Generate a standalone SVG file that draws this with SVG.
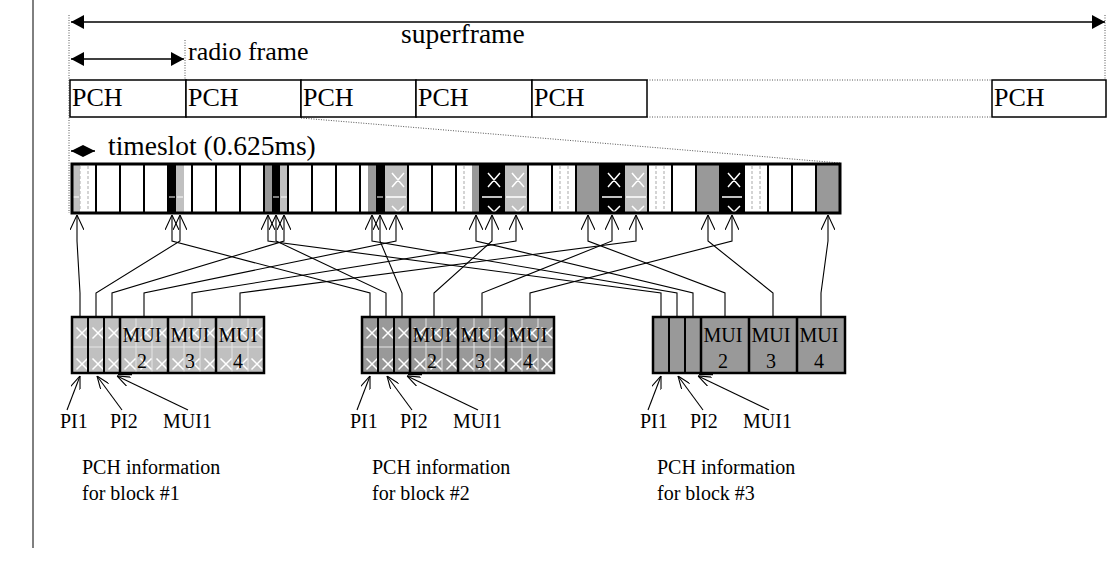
<svg xmlns="http://www.w3.org/2000/svg" xmlns:xlink="http://www.w3.org/1999/xlink" width="1107" height="565" viewBox="0 0 1107 565">
<style>
.t{font-family:"Liberation Serif","Times New Roman",serif;fill:#000}
.big{font-size:26px}
.big2{font-size:27.5px}
.mid{font-size:20px}
.lg{fill:#c0c0c0}
.dg{fill:#999999}
.bk{fill:#000}
.wx{stroke:#fff;stroke-width:1.5;fill:none}
.wl{stroke:#fff;stroke-width:1.2;fill:none}
.gl{stroke:#e6e6e6;stroke-width:1;fill:none}
.dsh{stroke:#b8b8b8;stroke-width:1.2;stroke-dasharray:3 2;fill:none}
.dot{stroke:#555;stroke-width:1;stroke-dasharray:1 1.5;fill:none}
.box{fill:#fff;stroke:#000;stroke-width:1.5}
.conn{stroke:#000;stroke-width:1.1;fill:none;marker-end:url(#oa)}
.lab{stroke:#000;stroke-width:1.1;fill:none;marker-end:url(#sa)}
.dim{stroke:#000;stroke-width:1.5;fill:none}
.thick{stroke:#000;stroke-width:2.5;fill:none}
.thin{stroke:#000;stroke-width:2;fill:none}
</style>
<defs>
<marker id="oa" viewBox="0 0 15 14" refX="15" refY="7" markerWidth="15" markerHeight="14" markerUnits="userSpaceOnUse" orient="auto"><path d="M0,0 L15,7 L0,14" fill="none" stroke="#000" stroke-width="1.1"/></marker>
<marker id="sa" viewBox="0 0 13 10" refX="13" refY="5" markerWidth="13" markerHeight="10" markerUnits="userSpaceOnUse" orient="auto"><path d="M0,0 L13,5 L0,10" fill="none" stroke="#000" stroke-width="1.1"/></marker>
<marker id="fa" viewBox="0 0 13 14" refX="13" refY="7" markerWidth="13" markerHeight="14" markerUnits="userSpaceOnUse" orient="auto-start-reverse"><path d="M0,0 L13,7 L0,14 z" fill="#000"/></marker>
<marker id="fs" viewBox="0 0 12 12" refX="12" refY="6" markerWidth="12" markerHeight="12" markerUnits="userSpaceOnUse" orient="auto-start-reverse"><path d="M0,0 L12,6 L0,12 z" fill="#000"/></marker>
<path id="xm" d="M-5.5,-5.5L5.5,5.5M5.5,-5.5L-5.5,5.5" class="wx"/>
</defs>

<path d="M33,0 V548" stroke="#000" stroke-width="1"/>

<g id="guides">
<path class="dot" d="M69,15 V213"/>
<path class="dot" d="M1105,15 V80"/>
<path class="dot" d="M185,40 V80"/>
<path class="dot" d="M647,80 H992 M647,117 H992"/>
<path class="dot" d="M301,118 L840,163"/>
</g>

<g id="superframe">
<path class="dim" d="M71,22 H1105" marker-start="url(#fa)" marker-end="url(#fa)"/>
<text class="t big2" x="401" y="43">superframe</text>
</g>

<g id="radioframe">
<path class="dim" d="M71,59 H184" marker-start="url(#fa)" marker-end="url(#fa)"/>
<text class="t big" x="188" y="60">radio frame</text>
</g>

<g id="pch-frames">
<rect class="box" x="70" y="80" width="116" height="37"/>
<rect class="box" x="186" y="80" width="115" height="37"/>
<rect class="box" x="301" y="80" width="115" height="37"/>
<rect class="box" x="416" y="80" width="116" height="37"/>
<rect class="box" x="532" y="80" width="115" height="37"/>
<rect class="box" x="992" y="80" width="114" height="37"/>
<text class="t big" x="72" y="106">PCH</text>
<text class="t big" x="188" y="106">PCH</text>
<text class="t big" x="303" y="106">PCH</text>
<text class="t big" x="418" y="106">PCH</text>
<text class="t big" x="534" y="106">PCH</text>
<text class="t big" x="994" y="106">PCH</text>
</g>

<g id="timeslot-label">
<path class="dim" d="M71,151 H95" stroke-width="1" marker-start="url(#fs)" marker-end="url(#fs)"/>
<text class="t big2" x="108" y="155">timeslot (0.625ms)</text>
</g>

<g id="timeslots">
<rect x="72" y="164" width="768" height="49" fill="#fff"/>
<rect class="lg" x="72" y="165" width="8" height="47"/>
<rect class="bk" x="168" y="165" width="8" height="47"/>
<rect class="lg" x="176" y="165" width="8" height="47"/>
<rect class="dg" x="264" y="165" width="8" height="47"/>
<rect class="bk" x="272" y="165" width="8" height="47"/>
<rect class="lg" x="280" y="165" width="8" height="47"/>
<rect class="dg" x="368" y="165" width="8" height="47"/>
<rect class="bk" x="376" y="165" width="8" height="47"/>
<rect class="lg" x="384" y="165" width="24" height="47"/>
<rect class="dg" x="472" y="165" width="8" height="47"/>
<rect class="bk" x="480" y="165" width="24" height="47"/>
<rect class="lg" x="504" y="165" width="24" height="47"/>
<rect class="dg" x="576" y="165" width="24" height="47"/>
<rect class="bk" x="600" y="165" width="24" height="47"/>
<rect class="lg" x="624" y="165" width="24" height="47"/>
<rect class="dg" x="696" y="165" width="24" height="47"/>
<rect class="bk" x="720" y="165" width="24" height="47"/>
<rect class="dg" x="816" y="165" width="24" height="47"/>
<path class="dsh" d="M80,166V211 M88,166V211 M464,166V211 M560,166V211 M568,166V211 M656,166V211 M664,166V211 M752,166V211 M760,166V211"/>
<path class="wl" d="M73,197H79 M169,197H175 M177,197H183 M273,197H279 M281,197H287 M377,197H383"/>
<path class="wx" d="M392,173L404,187M404,173L392,187 M386,197H406 M392,206L398,212L404,206
M488,173L500,187M500,173L488,187 M482,197H502 M488,206L494,212L500,206
M512,173L524,187M524,173L512,187 M506,197H526 M512,206L518,212L524,206
M608,173L620,187M620,173L608,187 M602,197H622 M608,206L614,212L620,206
M632,173L644,187M644,173L632,187 M626,197H646 M632,206L638,212L644,206
M728,173L740,187M740,173L728,187 M722,197H742 M728,206L734,212L740,206"/>
<path class="thin" d="M96,164V213 M120,164V213 M144,164V213 M168,164V213 M192,164V213 M216,164V213 M240,164V213 M264,164V213 M288,164V213 M312,164V213 M336,164V213 M360,164V213 M384,164V213 M408,164V213 M432,164V213 M456,164V213 M480,164V213 M504,164V213 M528,164V213 M552,164V213 M576,164V213 M600,164V213 M624,164V213 M648,164V213 M672,164V213 M696,164V213 M720,164V213 M744,164V213 M768,164V213 M792,164V213 M816,164V213"/>
<rect x="72" y="164" width="768" height="49" fill="none" stroke="#000" stroke-width="3"/>
</g>

<g id="connectors">
<polyline class="conn" points="80,317 80,293 77,241 77,215"/>
<polyline class="conn" points="96,317 96,293 180,241 180,215"/>
<polyline class="conn" points="112,317 112,293 284,241 284,215"/>
<polyline class="conn" points="144,317 144,293 396,241 396,215"/>
<polyline class="conn" points="192,317 192,293 516,241 516,215"/>
<polyline class="conn" points="240,317 240,293 636,241 636,215"/>
<polyline class="conn" points="370,317 370,293 172,241 172,215"/>
<polyline class="conn" points="386,317 386,293 276,241 276,215"/>
<polyline class="conn" points="402,317 402,293 380,241 380,215"/>
<polyline class="conn" points="434,317 434,293 492,241 492,215"/>
<polyline class="conn" points="482,317 482,293 612,241 612,215"/>
<polyline class="conn" points="530,317 530,293 732,241 732,215"/>
<polyline class="conn" points="661,317 661,293 268,241 268,215"/>
<polyline class="conn" points="677,317 677,293 372,241 372,215"/>
<polyline class="conn" points="693,317 693,293 476,241 476,215"/>
<polyline class="conn" points="725,317 725,293 588,241 588,215"/>
<polyline class="conn" points="773,317 773,293 708,241 708,215"/>
<polyline class="conn" points="821,317 821,293 828,241 828,215"/>
<path class="lab" d="M67,410 L80,376"/>
<path class="lab" d="M122,410 L97,376"/>
<path class="lab" d="M188,410 L117,376"/>
<path class="lab" d="M357,410 L370,376"/>
<path class="lab" d="M412,410 L387,376"/>
<path class="lab" d="M478,410 L407,376"/>
<path class="lab" d="M648,410 L661,376"/>
<path class="lab" d="M703,410 L678,376"/>
<path class="lab" d="M769,410 L698,376"/>
</g>

<g id="block1">
<rect class="lg" x="72" y="317" width="192" height="56"/>
<path class="gl" d="M72,347H264 M136,317V373 M152,317V373 M184,317V373 M200,317V373 M232,317V373 M248,317V373"/>
<use xlink:href="#xm" href="#xm" x="82" y="333"/><use xlink:href="#xm" href="#xm" x="98" y="333"/><use xlink:href="#xm" href="#xm" x="114" y="333"/><use xlink:href="#xm" href="#xm" x="130" y="333"/><use xlink:href="#xm" href="#xm" x="146" y="333"/><use xlink:href="#xm" href="#xm" x="162" y="333"/><use xlink:href="#xm" href="#xm" x="178" y="333"/><use xlink:href="#xm" href="#xm" x="194" y="333"/><use xlink:href="#xm" href="#xm" x="210" y="333"/><use xlink:href="#xm" href="#xm" x="226" y="333"/><use xlink:href="#xm" href="#xm" x="242" y="333"/><use xlink:href="#xm" href="#xm" x="257" y="333"/>
<use xlink:href="#xm" href="#xm" x="82" y="364"/><use xlink:href="#xm" href="#xm" x="98" y="364"/><use xlink:href="#xm" href="#xm" x="114" y="364"/><use xlink:href="#xm" href="#xm" x="130" y="364"/><use xlink:href="#xm" href="#xm" x="146" y="364"/><use xlink:href="#xm" href="#xm" x="162" y="364"/><use xlink:href="#xm" href="#xm" x="178" y="364"/><use xlink:href="#xm" href="#xm" x="194" y="364"/><use xlink:href="#xm" href="#xm" x="210" y="364"/><use xlink:href="#xm" href="#xm" x="226" y="364"/><use xlink:href="#xm" href="#xm" x="242" y="364"/><use xlink:href="#xm" href="#xm" x="257" y="364"/>
<path class="thin" d="M88,317V373 M104,317V373"/>
<path class="thick" d="M120,317V373 M168,317V373 M216,317V373 M118,374H132"/>
<rect x="72" y="317" width="192" height="56" fill="none" stroke="#000" stroke-width="2.5"/>
<text class="t mid" x="142" y="342" text-anchor="middle">MUI</text>
<text class="t mid" x="190" y="342" text-anchor="middle">MUI</text>
<text class="t mid" x="238" y="342" text-anchor="middle">MUI</text>
<text class="t mid" x="142" y="368" text-anchor="middle">2</text>
<text class="t mid" x="190" y="368" text-anchor="middle">3</text>
<text class="t mid" x="238" y="368" text-anchor="middle">4</text>
<text class="t mid" x="60" y="428">PI1</text>
<text class="t mid" x="110" y="428">PI2</text>
<text class="t mid" x="163" y="428">MUI1</text>
<text class="t mid" x="82" y="474">PCH information</text>
<text class="t mid" x="82" y="500">for block #1</text>
</g>

<g id="block2">
<rect class="dg" x="362" y="317" width="192" height="56"/>
<path class="gl" d="M362,347H554 M426,317V373 M442,317V373 M474,317V373 M490,317V373 M522,317V373 M538,317V373"/>
<use xlink:href="#xm" href="#xm" x="372" y="333"/><use xlink:href="#xm" href="#xm" x="388" y="333"/><use xlink:href="#xm" href="#xm" x="404" y="333"/><use xlink:href="#xm" href="#xm" x="420" y="333"/><use xlink:href="#xm" href="#xm" x="436" y="333"/><use xlink:href="#xm" href="#xm" x="452" y="333"/><use xlink:href="#xm" href="#xm" x="468" y="333"/><use xlink:href="#xm" href="#xm" x="484" y="333"/><use xlink:href="#xm" href="#xm" x="500" y="333"/><use xlink:href="#xm" href="#xm" x="516" y="333"/><use xlink:href="#xm" href="#xm" x="532" y="333"/><use xlink:href="#xm" href="#xm" x="547" y="333"/>
<use xlink:href="#xm" href="#xm" x="372" y="364"/><use xlink:href="#xm" href="#xm" x="388" y="364"/><use xlink:href="#xm" href="#xm" x="404" y="364"/><use xlink:href="#xm" href="#xm" x="420" y="364"/><use xlink:href="#xm" href="#xm" x="436" y="364"/><use xlink:href="#xm" href="#xm" x="452" y="364"/><use xlink:href="#xm" href="#xm" x="468" y="364"/><use xlink:href="#xm" href="#xm" x="484" y="364"/><use xlink:href="#xm" href="#xm" x="500" y="364"/><use xlink:href="#xm" href="#xm" x="516" y="364"/><use xlink:href="#xm" href="#xm" x="532" y="364"/><use xlink:href="#xm" href="#xm" x="547" y="364"/>
<path class="thin" d="M378,317V373 M394,317V373"/>
<path class="thick" d="M410,317V373 M458,317V373 M506,317V373 M408,374H422"/>
<rect x="362" y="317" width="192" height="56" fill="none" stroke="#000" stroke-width="2.5"/>
<text class="t mid" x="432" y="342" text-anchor="middle">MUI</text>
<text class="t mid" x="480" y="342" text-anchor="middle">MUI</text>
<text class="t mid" x="528" y="342" text-anchor="middle">MUI</text>
<text class="t mid" x="432" y="368" text-anchor="middle">2</text>
<text class="t mid" x="480" y="368" text-anchor="middle">3</text>
<text class="t mid" x="528" y="368" text-anchor="middle">4</text>
<text class="t mid" x="350" y="428">PI1</text>
<text class="t mid" x="400" y="428">PI2</text>
<text class="t mid" x="453" y="428">MUI1</text>
<text class="t mid" x="372" y="474">PCH information</text>
<text class="t mid" x="372" y="500">for block #2</text>
</g>

<g id="block3">
<rect class="dg" x="653" y="317" width="192" height="56"/>
<path class="thin" d="M669,317V373 M685,317V373"/>
<path class="thick" d="M701,317V373 M749,317V373 M797,317V373 M699,374H713"/>
<rect x="653" y="317" width="192" height="56" fill="none" stroke="#000" stroke-width="2.5"/>
<text class="t mid" x="723" y="342" text-anchor="middle">MUI</text>
<text class="t mid" x="771" y="342" text-anchor="middle">MUI</text>
<text class="t mid" x="819" y="342" text-anchor="middle">MUI</text>
<text class="t mid" x="723" y="368" text-anchor="middle">2</text>
<text class="t mid" x="771" y="368" text-anchor="middle">3</text>
<text class="t mid" x="819" y="368" text-anchor="middle">4</text>
<text class="t mid" x="640" y="428">PI1</text>
<text class="t mid" x="690" y="428">PI2</text>
<text class="t mid" x="743" y="428">MUI1</text>
<text class="t mid" x="657" y="474">PCH information</text>
<text class="t mid" x="657" y="500">for block #3</text>
</g>
</svg>
